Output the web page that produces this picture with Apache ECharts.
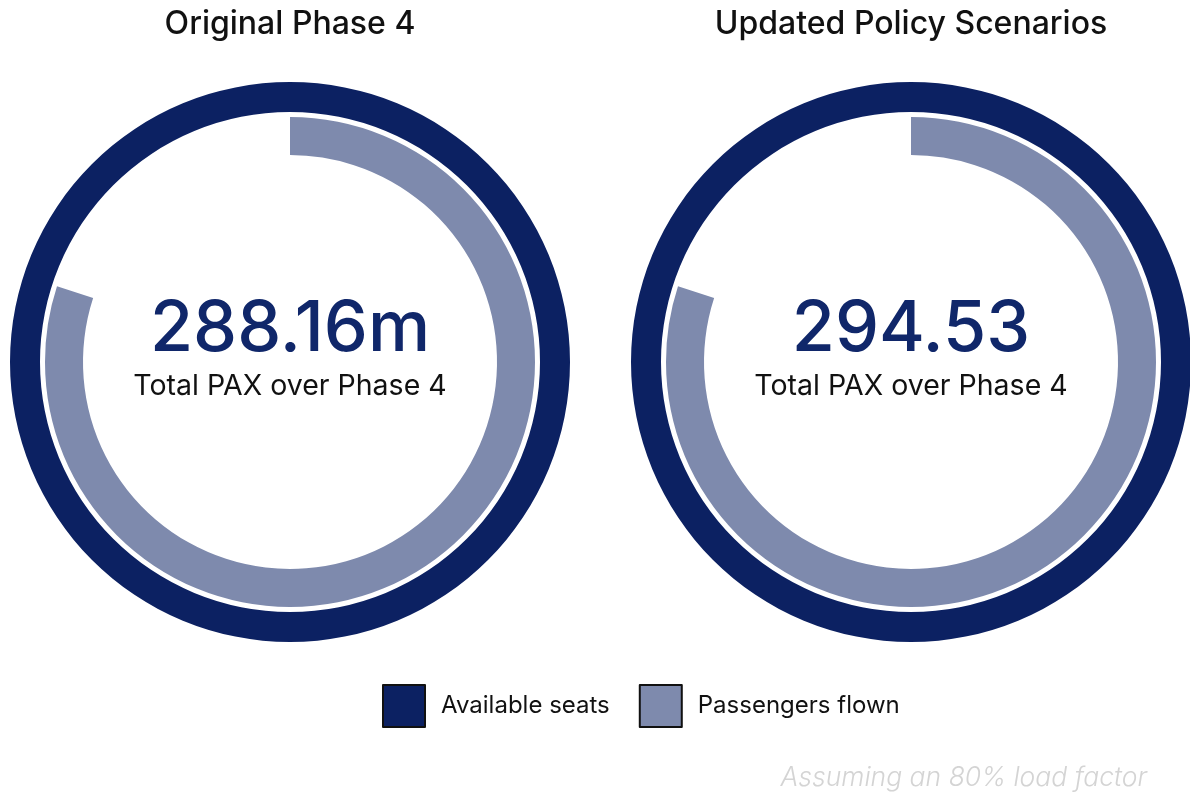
<!DOCTYPE html>
<html>
<head>
<meta charset="utf-8">
<script src="https://cdn.jsdelivr.net/npm/echarts@6/dist/echarts.min.js"></script>
<style>
  html, body { margin: 0; padding: 0; background: #fff; }
  #main { width: 1190px; height: 796px; }
</style>
</head>
<body>
<div id="main"></div>
<script>
// Data
const scenarios = ["Original Phase 4", "Updated Policy Scenarios"];
const centerLabels = ["288.16m", "294.53"];
const passengersFlown = [288.16, 294.53];
const loadFactor = 0.8;
const availableSeats = passengersFlown.map(v => +(v / loadFactor).toFixed(2));
const seriesNames = ["Available seats", "Passengers flown"];

const chartDom = document.getElementById("main");
const myChart = echarts.init(chartDom);

const colors = {
  seats: "#0c2162",
  flown: "#7e8aad",
  number: "#10276a",
  text: "#111111"
};
const font = "Inter, 'Noto Sans', sans-serif";
const centersX = [290, 911];
const centerY = 362;

const series = [];
const graphics = [];

scenarios.forEach((name, i) => {
  // outer ring: available seats (full circle)
  series.push({
    type: "pie",
    center: [centersX[i], centerY],
    radius: [250, 280],
    silent: true,
    label: { show: false },
    labelLine: { show: false },
    data: [{ name: seriesNames[0], value: availableSeats[i], itemStyle: { color: colors.seats } }]
  });
  // inner ring: passengers flown, the rest stays empty
  series.push({
    type: "pie",
    center: [centersX[i], centerY],
    radius: [207, 245],
    startAngle: 90,
    clockwise: true,
    silent: true,
    label: { show: false },
    labelLine: { show: false },
    data: [
      { name: seriesNames[1], value: passengersFlown[i], itemStyle: { color: colors.flown } },
      { name: "empty", value: availableSeats[i] - passengersFlown[i], itemStyle: { color: "rgba(0,0,0,0)" } }
    ]
  });

  graphics.push({
    type: "text",
    style: {
      text: name, x: centersX[i], y: 24,
      align: "center", verticalAlign: "middle",
      font: "500 32px " + font, fill: colors.text
    }
  });
  graphics.push({
    type: "text",
    style: {
      text: centerLabels[i], x: centersX[i], y: 330,
      align: "center", verticalAlign: "middle",
      font: "500 70px " + font, fill: colors.number
    }
  });
  graphics.push({
    type: "text",
    style: {
      text: "Total PAX over Phase 4", x: centersX[i], y: 386,
      align: "center", verticalAlign: "middle",
      font: "400 28.5px " + font, fill: colors.text
    }
  });
});

graphics.push({
  type: "text",
  style: {
    text: "Assuming an 80% load factor", x: 1147, y: 778,
    align: "right", verticalAlign: "middle",
    font: "italic 300 26.5px " + font, fill: "#d4d4d4"
  }
});

const option = {
  animation: false,
  color: [colors.seats, colors.flown],
  legend: {
    data: seriesNames,
    left: 382,
    top: 684,
    padding: 0,
    icon: "rect",
    itemWidth: 42,
    itemHeight: 42,
    itemGap: 29,
    selectedMode: false,
    itemStyle: { borderColor: "#111", borderWidth: 2 },
    textStyle: { color: colors.text, fontSize: 24, fontFamily: font, padding: [0, 0, 0, 11] }
  },
  series: series,
  graphic: graphics
};

myChart.setOption(option);
</script>
</body>
</html>
